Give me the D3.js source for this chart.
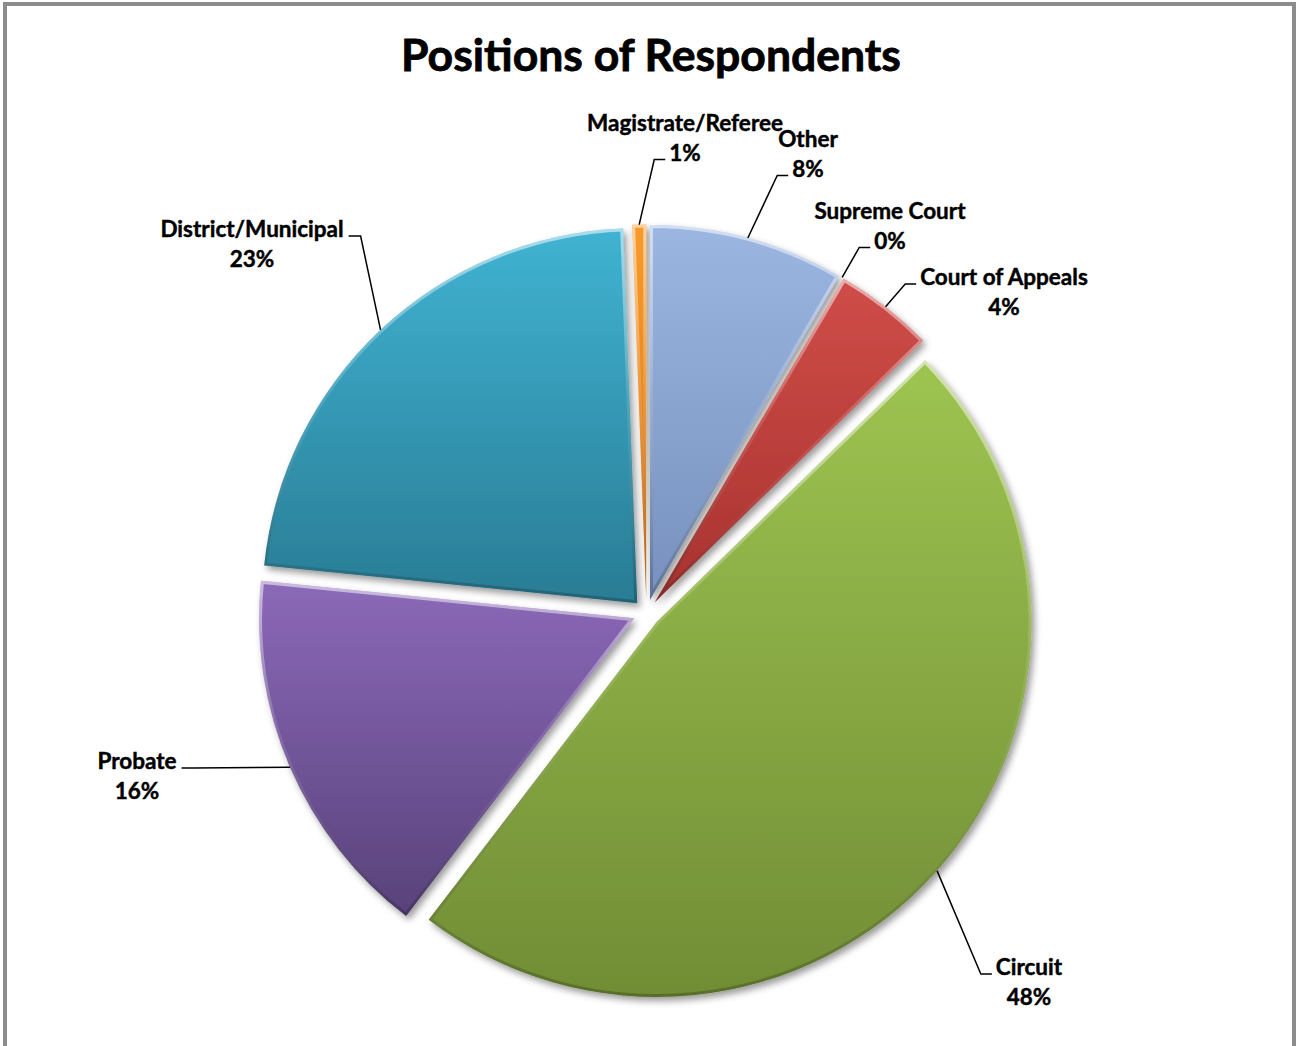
<!DOCTYPE html>
<html>
<head>
<meta charset="utf-8">
<script src="https://cdn.jsdelivr.net/npm/d3@7"></script>
<style>
  body { margin: 0; background: #fff; }
  text { font-family: Lato, "Open Sans", sans-serif; font-weight: bold; fill: #000; stroke: #000; stroke-width: 0.45px; }
</style>
</head>
<body>
<div id="chart"></div>
<script>
// datos del grafico (orden horario desde las 12)
var categories = ['Other', 'Supreme Court', 'Court of Appeals', 'Circuit', 'Probate', 'District/Municipal', 'Magistrate/Referee'];
var shares = [8.4, 0, 4.3, 47.7, 16.2, 22.8, 0.6];
var chartTitle = 'Positions of Respondents';

// lienzo y geometria
var width = 1296, height = 1046;
var cx = 646.5, cy = 613, radius = 375, explode = 13.5;

// colores (arriba / abajo del degradado)
var colorsTop = ['#9cb6e2', '#4f81bd', '#cf4d49', '#9ec451', '#8b69b9', '#40b3d2', '#f89a2a'];
var colorsBottom = ['#7790bd', '#3c6596', '#a8322f', '#718d35', '#58427a', '#297c94', '#d8761a'];

// posicion de etiquetas: centro x, linea base de la primera linea, a que linea y lado se une la guia
var labelLayout = [
  {x: 808, y: 147, line: 1, side: 'left'},
  {x: 890, y: 219, line: 1, side: 'left'},
  {x: 1004, y: 285, line: 0, side: 'left'},
  {x: 1029, y: 975, line: 0, side: 'left'},
  {x: 137, y: 769, line: 0, side: 'right'},
  {x: 252, y: 237, line: 0, side: 'right'},
  {x: 685, y: 131, line: 1, side: 'left'}
];

var svg = d3.select('#chart')
  .append('svg')
  .attr('width', width)
  .attr('height', height);

var defs = svg.append('defs');

// sombra
var shadow = defs.append('filter')
  .attr('id', 'shadow')
  .attr('x', '-20%').attr('y', '-20%')
  .attr('width', '140%').attr('height', '140%');
shadow.append('feDropShadow')
  .attr('dx', 3).attr('dy', 4)
  .attr('stdDeviation', 3.5)
  .attr('flood-color', '#000')
  .attr('flood-opacity', 0.4);

// degradados por porcion
categories.forEach(function(c, i) {
  var g = defs.append('linearGradient')
    .attr('id', 'grad' + i)
    .attr('x1', 0).attr('y1', 0).attr('x2', 0).attr('y2', 1);
  g.append('stop').attr('offset', '0%').attr('stop-color', colorsTop[i]);
  g.append('stop').attr('offset', '100%').attr('stop-color', colorsBottom[i]);
});

// bisel
var bevel = defs.append('linearGradient')
  .attr('id', 'bevel')
  .attr('x1', 0).attr('y1', 0).attr('x2', 0).attr('y2', 1);
bevel.append('stop').attr('offset', '0%').attr('stop-color', '#fff').attr('stop-opacity', 0.55);
bevel.append('stop').attr('offset', '45%').attr('stop-color', '#fff').attr('stop-opacity', 0.12);
bevel.append('stop').attr('offset', '100%').attr('stop-color', '#000').attr('stop-opacity', 0.22);

// marco
svg.append('rect')
  .attr('x', 5).attr('y', 4)
  .attr('width', 1289).attr('height', 1060)
  .attr('fill', 'none')
  .attr('stroke', '#8c8c8c')
  .attr('stroke-width', 4);

// titulo
svg.append('text')
  .attr('x', 651)
  .attr('y', 71)
  .attr('text-anchor', 'middle')
  .style('font-size', '44.5px')
  .style('stroke-width', '0.8px')
  .text(chartTitle);

var pie = d3.pie().sort(null).value(function(d) { return d; });
var arcs = pie(shares);
var total = d3.sum(shares);
var fmt = d3.format('.0%');

var arc = d3.arc().innerRadius(0).outerRadius(radius);

function midAngle(d) { return (d.startAngle + d.endAngle) / 2; }

var slices = svg.append('g')
  .selectAll('g')
  .data(arcs.filter(function(d) { return d.value > 0; }))
  .enter()
  .append('g')
  .attr('transform', function(d) {
    var m = midAngle(d);
    return 'translate(' + (cx + explode * Math.sin(m)) + ',' + (cy - explode * Math.cos(m)) + ')';
  });

slices.append('clipPath')
  .attr('id', function(d) { return 'clip' + d.index; })
  .append('path')
  .attr('d', arc);

slices.append('path')
  .attr('d', arc)
  .attr('fill', function(d) { return 'url(#grad' + d.index + ')'; })
  .attr('filter', 'url(#shadow)');

slices.append('path')
  .attr('d', arc)
  .attr('fill', 'none')
  .attr('stroke', 'url(#bevel)')
  .attr('stroke-width', 6)
  .attr('clip-path', function(d) { return 'url(#clip' + d.index + ')'; });

// etiquetas y lineas guia
var labels = svg.append('g');
arcs.forEach(function(d, i) {
  var lay = labelLayout[i];
  var lines = [categories[i], fmt(d.value / total)];
  var texts = lines.map(function(t, k) {
    return labels.append('text')
      .attr('x', lay.x)
      .attr('y', lay.y + k * 29.5)
      .attr('text-anchor', 'middle')
      .style('font-size', '22.5px')
      .text(t);
  });
  var bb = texts[lay.line].node().getBBox();
  var ly = lay.y + lay.line * 29.5 - 1;
  var endX = lay.side === 'left' ? bb.x - 4 : bb.x + bb.width + 5;
  var elbowX = lay.side === 'left' ? endX - 11 : endX + 12;
  var m = midAngle(d);
  var r = radius + explode;
  var ax = cx + r * Math.sin(m), ay = cy - r * Math.cos(m);
  labels.append('path')
    .attr('d', 'M' + ax + ',' + ay + 'L' + elbowX + ',' + ly + 'L' + endX + ',' + ly)
    .attr('fill', 'none')
    .attr('stroke', '#000')
    .attr('stroke-width', 1.5);
});
</script>
</body>
</html>
